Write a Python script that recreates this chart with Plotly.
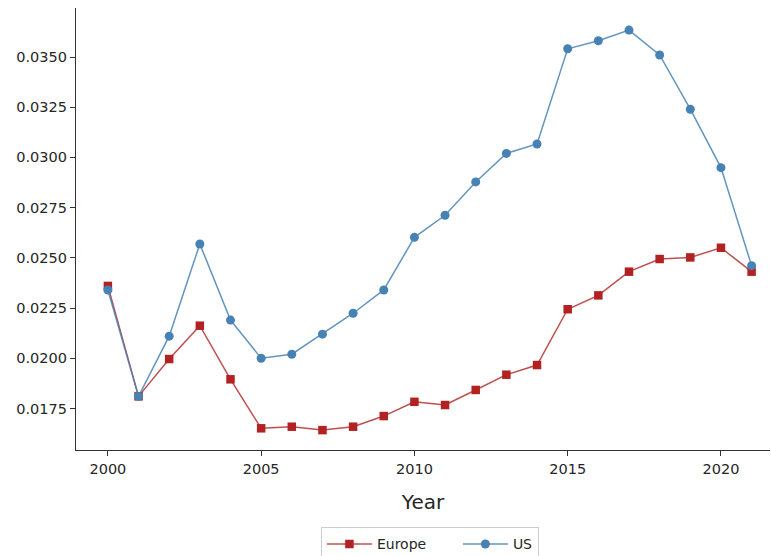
import plotly.graph_objects as go

years = list(range(2000, 2022))
europe = [0.0236, 0.0181, 0.01996, 0.02162, 0.01895, 0.01651, 0.01659, 0.01642,
          0.01659, 0.01712, 0.01783, 0.01767, 0.01842, 0.01918, 0.01966, 0.02244,
          0.02313, 0.02431, 0.02494, 0.02502, 0.0255, 0.02431]
us = [0.0234, 0.0181, 0.0211, 0.02569, 0.0219, 0.0200, 0.0202, 0.0212,
      0.02224, 0.0234, 0.02602, 0.02712, 0.02878, 0.0302, 0.03067, 0.03541,
      0.03581, 0.03634, 0.0351, 0.0324, 0.02949, 0.02461]
y_ticks = [0.0175, 0.0200, 0.0225, 0.0250, 0.0275, 0.0300, 0.0325, 0.0350]
x_ticks = [2000, 2005, 2010, 2015, 2020]

pad = "\u00a0" * 6

fig = go.Figure()
fig.add_trace(go.Scatter(
    x=years, y=europe, name="Europe" + pad, mode="lines+markers",
    line=dict(color="rgba(178,34,34,0.8)", width=1.5),
    marker=dict(symbol="square", size=8.5, color="#b22222"),
    cliponaxis=False,
))
fig.add_trace(go.Scatter(
    x=years, y=us, name="US", mode="lines+markers",
    line=dict(color="rgba(70,130,180,0.85)", width=1.5),
    marker=dict(symbol="circle", size=9, color="#4682b4"),
    cliponaxis=False,
))

axis_common = dict(
    showgrid=False, zeroline=False, showline=True, linecolor="#333333",
    linewidth=1.3, ticks="outside", ticklen=5, tickwidth=1.2, tickcolor="#333333",
    tickfont=dict(family="DejaVu Sans", size=14.5, color="#262626"),
)

fig.update_layout(
    width=771, height=556,
    margin=dict(l=76, r=1, t=8, b=106, autoexpand=False),
    plot_bgcolor="white", paper_bgcolor="white",
    font=dict(family="DejaVu Sans", color="#262626"),
    xaxis=dict(
        **axis_common, range=[1998.96, 2021.6], tickvals=x_ticks,
        ticktext=[str(v) for v in x_ticks],
        title=dict(text="Year", font=dict(size=20, color="#262626"), standoff=19),
    ),
    yaxis=dict(
        **axis_common, range=[0.01543, 0.03744], tickvals=y_ticks,
        ticktext=[f"{v:.4f}" for v in y_ticks],
    ),
    legend=dict(
        orientation="h", x=0.51, xanchor="center", y=-0.175, yanchor="top",
        bordercolor="#cccccc", borderwidth=1, bgcolor="white",
        font=dict(size=14, color="#262626"), itemwidth=45,
    ),
    showlegend=True,
)

fig.write_html(
    "out.html",
    config={"displayModeBar": False},
    post_script="document.body.style.margin='0';document.body.style.padding='0';",
)
